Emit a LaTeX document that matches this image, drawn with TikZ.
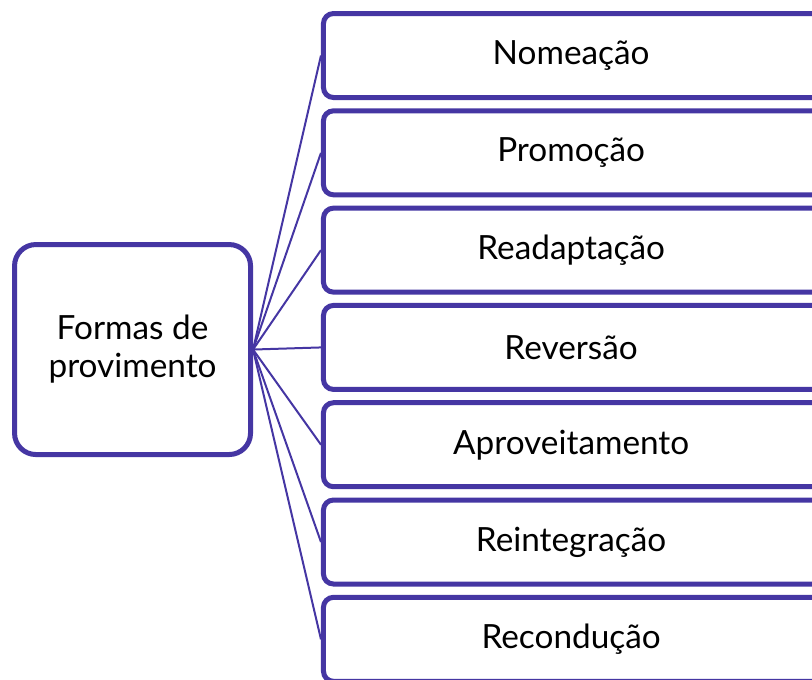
\documentclass[tikz,border=0pt]{standalone}
\usepackage{fontspec}
\setmainfont{Lato}
\usetikzlibrary{positioning,calc}
\definecolor{provcolor}{RGB}{69,54,163}
\tikzstyle{root}=[draw=provcolor, fill=white, line width=3.75pt, rounded corners=16pt, minimum width=177pt, minimum height=157.5pt, align=center, font=\fontsize{25}{28.5}\selectfont]
\tikzstyle{form}=[draw=provcolor, fill=white, line width=3.75pt, rounded corners=7.5pt, minimum width=383pt, minimum height=63pt, font=\fontsize{25}{28.5}\selectfont]
\tikzstyle{link}=[draw=provcolor, line width=1.5pt]
\begin{document}
\begin{tikzpicture}[x=1pt, y=1pt]
        %
        \useasboundingbox (0,0) rectangle (609,509.25);
        \clip (0,0) rectangle (609,509.25);
        \node at (99.4,247.1) [root] (prov) {Formas de\\provimento};
        \foreach \name/\txt [count=\i from 0] in {nomeacao/Nomeação, promocao/Promoção, readaptacao/Readaptação, reversao/Reversão, aproveitamento/Aproveitamento, reintegracao/Reintegração, reconducao/Recondução}
        {
          \node at (434.1,467.6-72.975*\i) [form] (\name) {\txt\hspace*{11.5pt}};
          \draw [link] (prov.east) -- (\name.west);
        }
      %
\end{tikzpicture}
\end{document}
